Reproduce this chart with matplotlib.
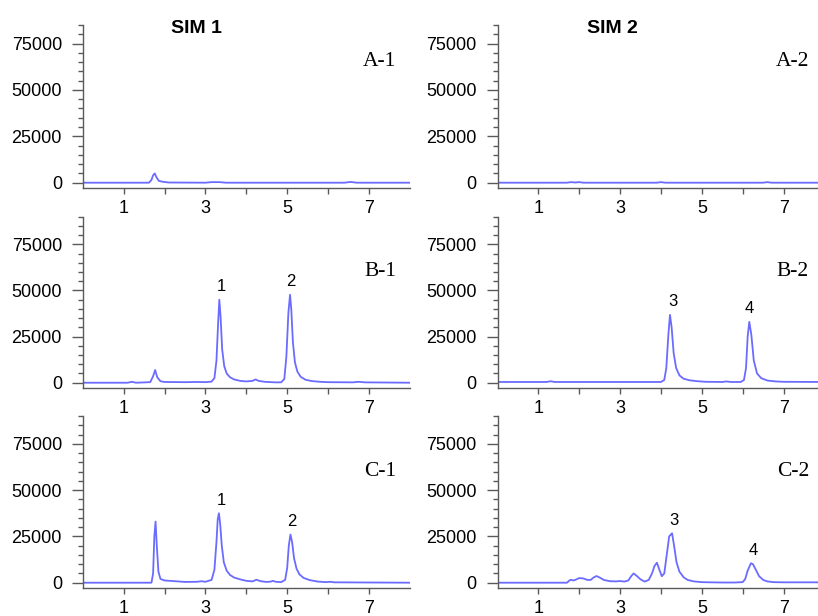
import matplotlib
matplotlib.use("Agg")
import matplotlib.pyplot as plt
from matplotlib.ticker import MultipleLocator, FixedLocator

plt.rcParams['font.family'] = ['Liberation Sans', 'DejaVu Sans']

W, H = 818, 616

# ---------------- data (retention time in min, abundance) ----------------
t_A1 = [0, 1.62, 1.68, 1.72, 1.76, 1.80, 1.86, 1.95, 2.1, 3.0, 3.15, 3.35, 3.5, 6.4, 6.55, 6.7, 8.0]
y_A1 = [0, 0, 1500, 4000, 5000, 3000, 1000, 500, 100, 0, 300, 300, 0, 0, 400, 0, 0]

t_A2 = [0, 1.7, 1.8, 1.9, 2.0, 2.1, 3.9, 4.0, 4.1, 6.5, 6.6, 6.7, 8.0]
y_A2 = [0, 0, 300, 100, 300, 0, 0, 300, 0, 0, 300, 0, 0]

t_B1 = [0, 1.1, 1.2, 1.3, 1.65, 1.72, 1.77, 1.82, 1.9, 2.0, 2.5, 2.8, 3.0, 3.15, 3.22,
        3.27, 3.31, 3.34, 3.37, 3.41, 3.46, 3.52, 3.6, 3.7, 3.85, 4.0, 4.15, 4.23, 4.3,
        4.45, 4.7, 4.85, 4.93, 4.98, 5.03, 5.07, 5.10, 5.14, 5.19, 5.25, 5.33, 5.45,
        5.6, 5.8, 6.0, 6.6, 6.75, 6.9, 8.0]
y_B1 = [0, 0, 500, 0, 300, 3500, 6900, 3000, 800, 400, 300, 400, 300, 600, 2500,
        12000, 32000, 45000, 36000, 18000, 9000, 5000, 3000, 1800, 1000, 700, 1000, 1800, 1000,
        500, 200, 200, 2000, 14000, 38000, 47700, 40000, 22000, 11000, 6000, 3200, 1600,
        900, 500, 300, 200, 500, 200, 0]

t_B2 = [0, 1.2, 1.3, 1.4, 4.0, 4.08, 4.13, 4.18, 4.22, 4.26, 4.31, 4.37, 4.45, 4.55,
        4.7, 4.9, 5.1, 5.5, 5.6, 5.7, 5.95, 6.03, 6.08, 6.12, 6.16, 6.21, 6.27, 6.35,
        6.45, 6.6, 6.8, 7.0, 8.0]
y_B2 = [400, 400, 800, 400, 400, 1500, 8000, 26000, 36800, 30000, 16000, 8000, 4000, 2200,
        1300, 800, 500, 400, 700, 400, 400, 1500, 8000, 25000, 33000, 26000, 12000, 5000,
        2500, 1200, 700, 500, 400]

t_C1 = [0, 1.68, 1.72, 1.75, 1.78, 1.81, 1.85, 1.9, 2.0, 2.2, 2.5, 2.8, 2.9, 3.0, 3.15,
        3.22, 3.27, 3.30, 3.33, 3.36, 3.40, 3.45, 3.52, 3.6, 3.7, 3.85, 4.0, 4.15, 4.25,
        4.35, 4.5, 4.6, 4.65, 4.72, 4.85, 4.95, 5.0, 5.04, 5.08, 5.12, 5.17, 5.23, 5.3,
        5.4, 5.55, 5.75, 5.95, 6.05, 6.15, 8.0]
y_C1 = [0, 0, 5000, 25000, 33000, 20000, 6000, 2000, 1200, 900, 400, 500, 800, 500, 1500,
        7000, 22000, 34000, 37500, 32000, 20000, 11000, 6500, 4200, 2800, 1800, 1000, 700, 1600,
        800, 400, 600, 1000, 500, 300, 1500, 8000, 20000, 26000, 22000, 13000, 7500, 4500,
        2600, 1400, 600, 300, 500, 200, 0]

t_C2 = [0, 1.7, 1.76, 1.8, 1.85, 1.9, 2.0, 2.1, 2.2, 2.28, 2.35, 2.42, 2.5, 2.6, 2.75,
        2.9, 3.0, 3.1, 3.2, 3.27, 3.33, 3.4, 3.5, 3.6, 3.7, 3.78, 3.84, 3.9, 3.96, 4.02,
        4.08, 4.14, 4.2, 4.27, 4.32, 4.38, 4.45, 4.55, 4.65, 4.8, 5.0, 5.2, 5.5, 5.8, 6.0,
        6.06, 6.12, 6.2, 6.25, 6.32, 6.4, 6.5, 6.6, 6.75, 7.0, 8.0]
y_C2 = [0, 0, 1200, 1600, 1200, 1500, 2500, 2300, 1500, 1500, 2800, 3600, 2800, 1500, 800,
        700, 900, 600, 1200, 3500, 5000, 3800, 1800, 600, 1500, 5000, 9000, 10800, 7000, 3500,
        5000, 15000, 25000, 26700, 20000, 11000, 6000, 3000, 1500, 700, 300, 200, 100, 100, 300,
        2000, 6500, 10500, 10000, 7000, 3500, 1500, 700, 300, 200, 200]

panel_names = ["A-1", "A-2", "B-1", "B-2", "C-1", "C-2"]
column_titles = ["SIM 1", "SIM 2"]

# peak labels: (text, x, apex y)
peaks_B1 = [("1", 3.40, 45000), ("2", 5.09, 47700)]
peaks_B2 = [("3", 4.29, 36800), ("4", 6.16, 33000)]
peaks_C1 = [("1", 3.40, 37500), ("2", 5.12, 26000)]
peaks_C2 = [("3", 4.32, 26700), ("4", 6.25, 10500)]

y_major = [0, 25000, 50000, 75000]
x_major = [1, 3, 5, 7]

traces = [(t_A1, y_A1, []), (t_A2, y_A2, []),
          (t_B1, y_B1, peaks_B1), (t_B2, y_B2, peaks_B2),
          (t_C1, y_C1, peaks_C1), (t_C2, y_C2, peaks_C2)]

# ---------------- layout (pixel boxes) ----------------
col_x0 = [82.8, 497.5]
col_w = 327.0
row_top = [25.0, 216.7, 416.0]
row_bot = [187.7, 387.7, 587.7]
row_ymax = [85000, 90000, 90000]
ymin = -2700

label_right = [396, 809]
label_base = [65.5, 276, 476]
title_cx = [196, 612]
title_base = 33

line_color = '#6b6bff'
spine_color = '#5a5a5a'

fig = plt.figure(figsize=(W / 100, H / 100), dpi=100)

for i, (t, y, peaks) in enumerate(traces):
    r, c = divmod(i, 2)
    left = col_x0[c] / W
    bottom = 1 - row_bot[r] / H
    height = (row_bot[r] - row_top[r]) / H
    ax = fig.add_axes([left, bottom, col_w / W, height])
    ax.plot(t, y, color=line_color, lw=1.3)
    ax.set_xlim(0, 8)
    ax.set_ylim(ymin, row_ymax[r])
    for s in ['top', 'right']:
        ax.spines[s].set_visible(False)
    for s in ['left', 'bottom']:
        ax.spines[s].set_color(spine_color)
        ax.spines[s].set_linewidth(1.0)
    ax.yaxis.set_major_locator(FixedLocator(y_major))
    ax.yaxis.set_minor_locator(MultipleLocator(5000))
    ax.xaxis.set_major_locator(FixedLocator(x_major))
    ax.xaxis.set_minor_locator(FixedLocator([2, 4, 6]))
    ax.tick_params(axis='y', which='major', length=8, width=1, color=spine_color,
                   labelsize=13, pad=7)
    ax.tick_params(axis='y', which='minor', length=3.5, width=1, color=spine_color)
    ax.tick_params(axis='x', which='major', length=4.5, width=1, color=spine_color,
                   labelsize=13, pad=4.5)
    ax.tick_params(axis='x', which='minor', length=4.5, width=1, color=spine_color)
    ax.set_yticklabels([str(v) for v in y_major])
    ax.set_xticklabels([str(v) for v in x_major])
    ax.patch.set_alpha(0)
    for txt, px, py in peaks:
        ax.annotate(txt, (px, py), xytext=(0, 4), textcoords='offset points',
                    ha='center', va='bottom', fontsize=12)
    fig.text(label_right[c] / W, 1 - label_base[r] / H, panel_names[i],
             ha='right', va='baseline', fontsize=15.5, family='Liberation Serif')

for c in range(2):
    fig.text(title_cx[c] / W, 1 - title_base / H, column_titles[c], ha='center',
             va='baseline', fontsize=14, fontweight='bold')

fig.savefig("out.png", dpi=100)
